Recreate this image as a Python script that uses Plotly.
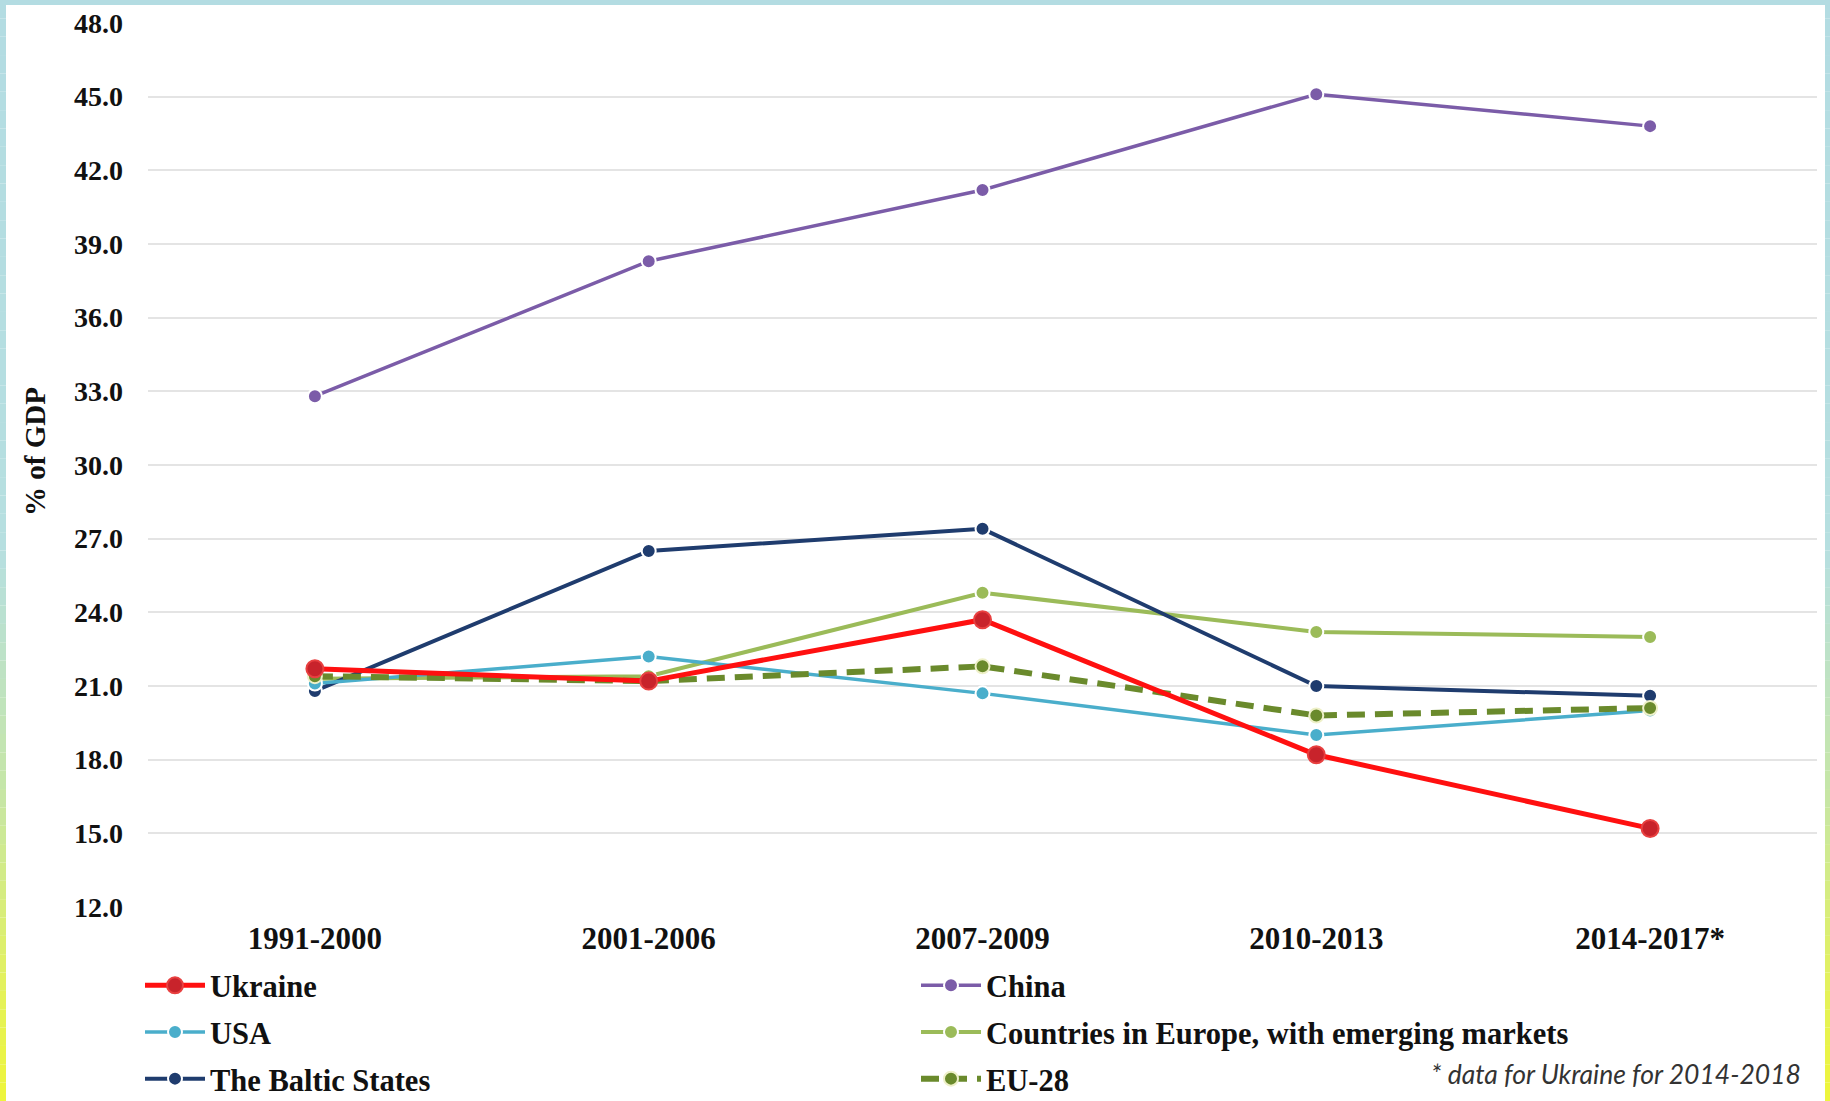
import plotly.graph_objects as go

# ---- data: gross savings / investment share, % of GDP ----
periods = ["1991-2000", "2001-2006", "2007-2009", "2010-2013", "2014-2017*"]
ukraine = [21.7, 21.2, 23.7, 18.2, 15.2]
china = [32.8, 38.3, 41.2, 45.1, 43.8]
usa = [21.1, 22.2, 20.7, 19.0, 20.0]
europe_emerging = [21.3, 21.4, 24.8, 23.2, 23.0]
baltic = [20.8, 26.5, 27.4, 21.0, 20.6]
eu28 = [21.4, 21.2, 21.8, 19.8, 20.1]
y_ticks = [12.0, 15.0, 18.0, 21.0, 24.0, 27.0, 30.0, 33.0, 36.0, 39.0, 42.0, 45.0, 48.0]
footnote = "* data for Ukraine for 2014-2018"

# ---- page geometry ----
W, H = 1830, 1101
ML, MR, MT, MB = 148, 13, 23, 194
PW, PH = W - ML - MR, H - MT - MB


def px_x(px):
    return (px - ML) / PW


def px_y(py):
    return (H - MB - py) / PH


SERIF = "Liberation Serif, Times New Roman, serif"
TEXT = "#111111"

fig = go.Figure()


def add_series(name, values, color, width, legend, rank, marker_size=14,
               marker_color=None, marker_line="white", dash="solid"):
    fig.add_trace(go.Scatter(
        x=periods, y=values, name=name, mode="lines+markers",
        line=dict(color=color, width=width, dash=dash),
        marker=dict(size=marker_size, color=marker_color or color,
                    line=dict(color=marker_line, width=2)),
        legend=legend, legendgroup=name, legendrank=rank,
    ))


# drawing order (bottom to top)
add_series("China", china, "#7b5ca8", 3.5, "legend2", 1)
add_series("Countries in Europe, with emerging markets", europe_emerging,
           "#9bbb59", 4, "legend2", 2)
add_series("The Baltic States", baltic, "#1f3c6e", 4, "legend", 3)
add_series("USA", usa, "#4aaecb", 3.5, "legend", 2)
add_series("EU-28", eu28, "#6a8a2c", 6, "legend2", 3,
           marker_line="#eef0c8", dash="18px,10px")
add_series("Ukraine", ukraine, "#ff1010", 5, "legend", 1, marker_size=17,
           marker_color="#c8232b", marker_line="#e84040")

legend_common = dict(
    orientation="v", yanchor="top", xanchor="left",
    font=dict(family=SERIF, size=30.5, color=TEXT, weight="bold"),
    bgcolor="rgba(0,0,0,0)", tracegroupgap=4, itemwidth=60,
)

# ---- frame strips around the page ----
shapes = []


def lerp(c1, c2, t):
    a = [int(c1[i:i + 2], 16) for i in (1, 3, 5)]
    b = [int(c2[i:i + 2], 16) for i in (1, 3, 5)]
    return "#" + "".join(f"{round(a[k] + (b[k] - a[k]) * t):02x}" for k in range(3))


stops = [(0.0, "#b3dce2"), (0.5, "#b6dfe0"), (0.72, "#c6e6a6"), (0.9, "#e4f25a"), (1.0, "#eef53a")]


def grad(t):
    for (t0, c0), (t1, c1) in zip(stops, stops[1:]):
        if t <= t1:
            return lerp(c0, c1, (t - t0) / (t1 - t0))
    return stops[-1][1]


N = 60
for i in range(N):
    y0, y1 = H * i / N, H * (i + 1) / N
    col = grad((i + 0.5) / N)
    for x0, x1 in ((0, 6), (W - 5, W)):
        shapes.append(dict(type="rect", xref="paper", yref="paper",
                           x0=px_x(x0), x1=px_x(x1), y0=px_y(y1), y1=px_y(y0),
                           fillcolor=col, line=dict(width=0), layer="above"))
shapes.append(dict(type="rect", xref="paper", yref="paper",
                   x0=px_x(0), x1=px_x(W), y0=px_y(5), y1=px_y(0),
                   fillcolor="#b3dce2", line=dict(width=0), layer="above"))

fig.update_layout(
    width=W, height=H,
    margin=dict(l=ML, r=MR, t=MT, b=MB, autoexpand=False),
    paper_bgcolor="white", plot_bgcolor="white",
    showlegend=True,
    legend=dict(legend_common, x=px_x(140), y=px_y(959)),
    legend2=dict(legend_common, x=px_x(916), y=px_y(959)),
    xaxis=dict(
        type="category", range=[-0.5, 4.5], showgrid=False, showline=False,
        zeroline=False, ticks="", ticklabelstandoff=10,
        tickfont=dict(family=SERIF, size=31, color=TEXT, weight="bold"),
    ),
    yaxis=dict(
        range=[12, 48], tickvals=y_ticks, tickformat=".1f",
        showgrid=True, gridcolor="#e4e4e4", gridwidth=2,
        showline=False, zeroline=False, ticks="", ticklabelstandoff=24,
        tickfont=dict(family=SERIF, size=28, color=TEXT, weight="bold"),
    ),
    shapes=shapes,
    annotations=[
        dict(text="% of GDP", xref="paper", yref="paper",
             x=px_x(35), y=px_y(452), textangle=-90, showarrow=False,
             xanchor="center", yanchor="middle",
             font=dict(family=SERIF, size=29, color=TEXT, weight="bold")),
        dict(text=footnote, xref="paper", yref="paper",
             x=px_x(1803), y=px_y(1074), showarrow=False,
             xanchor="right", yanchor="middle",
             font=dict(family="Lato, Open Sans, sans-serif", size=26.5,
                       color="#333333", style="italic")),
    ],
)

fig.write_html("out.html")
